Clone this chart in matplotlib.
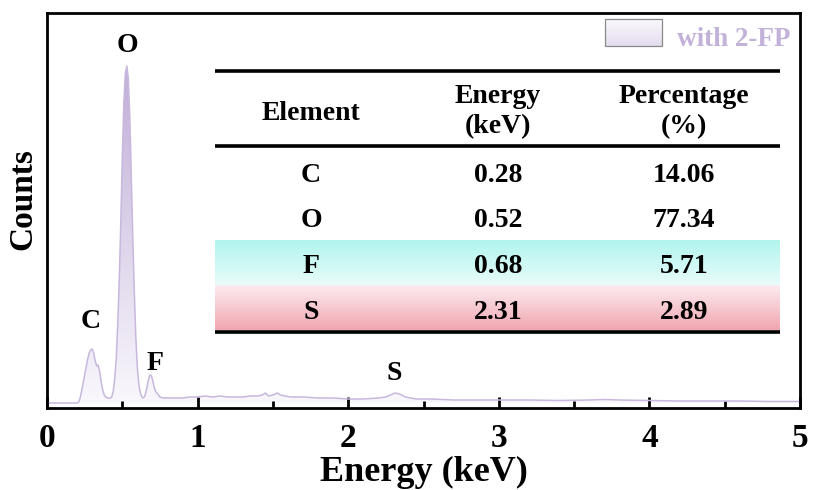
import numpy as np
import matplotlib
matplotlib.use("Agg")
import matplotlib.pyplot as plt
from matplotlib.patches import Rectangle, Polygon
from matplotlib.colors import LinearSegmentedColormap

plt.rcParams['font.family'] = ['Liberation Serif', 'DejaVu Serif']
plt.rcParams['font.weight'] = 'bold'

# ---------------- data ----------------
energy_kev = [0.00, 0.10, 0.20, 0.21, 0.22, 0.23, 0.24, 0.25, 0.26, 0.27, 0.28, 0.29,
              0.30, 0.31, 0.32, 0.33, 0.34, 0.35, 0.36, 0.37, 0.38, 0.39, 0.40, 0.41,
              0.42, 0.43, 0.44, 0.45, 0.46, 0.47, 0.48, 0.49, 0.50, 0.51, 0.52, 0.53,
              0.54, 0.55, 0.56, 0.57, 0.58, 0.59, 0.60, 0.61, 0.62, 0.63, 0.64, 0.65,
              0.66, 0.67, 0.68, 0.69, 0.70, 0.71, 0.72, 0.73, 0.74, 0.75, 0.77, 0.80,
              0.85, 0.90, 0.95, 1.00, 1.05, 1.10, 1.15, 1.20, 1.25, 1.30, 1.35, 1.40,
              1.43, 1.45, 1.47, 1.50, 1.53, 1.55, 1.58, 1.62, 1.70, 1.80, 1.90, 2.00,
              2.10, 2.20, 2.25, 2.28, 2.31, 2.34, 2.38, 2.45, 2.55, 2.70, 2.85, 3.00,
              3.20, 3.40, 3.60, 3.70, 3.80, 4.00, 4.20, 4.40, 4.60, 4.80, 5.00]
counts = [0, 0, 0, 1, 5, 12, 20, 28, 36, 44, 50, 53,
          54, 50, 42, 37, 38, 31, 21, 13, 8, 6, 5, 5,
          5, 6, 12, 25, 45, 80, 125, 180, 245, 300, 330, 337,
          325, 285, 225, 165, 110, 65, 35, 18, 10, 6, 5, 7,
          13, 21, 27, 28, 24, 17, 12, 10, 8, 6, 5, 5,
          5, 5, 6, 6, 7, 6, 7, 6, 6, 6, 7, 7,
          8, 10, 7, 8, 10, 8, 7, 6, 6, 5, 5, 4,
          4, 5, 6, 8, 10, 9, 6, 4, 4, 3, 3, 3,
          3, 2.5, 3, 3.5, 3, 2.5, 2, 2, 2, 1.5, 1.5]

elements = ['C', 'O', 'F', 'S']
elem_energy = ['0.28', '0.52', '0.68', '2.31']
elem_percent = ['14.06', '77.34', '5.71', '2.89']
peak_energy = [0.30, 0.53, 0.70, 2.32]
peak_height = [54, 337, 28, 10]

x_ticks = [0, 1, 2, 3, 4, 5]
series_label = 'with 2-FP'

# ---------------- figure ----------------
fig = plt.figure(figsize=(8.13, 4.90), dpi=100)
ax = fig.add_axes([47/813, 1-408/490, 753/813, 395/490])

x = np.array(energy_kev)
y = np.array(counts)
ymin, ymax = -5, 390
ax.set_xlim(0, 5)
ax.set_ylim(ymin, ymax)

# gradient fill under the curve
cmap = LinearSegmentedColormap.from_list('lav', ['#f9f7fc', '#c0aed8'])
grad = np.linspace(0, 1, 256).reshape(-1, 1)
im = ax.imshow(grad, extent=[0, 5, 0, max(counts)], origin='lower', aspect='auto',
               cmap=cmap, zorder=1)
verts = np.column_stack([np.r_[x[0], x, x[-1]], np.r_[0, y, 0]])
poly = Polygon(verts, closed=True, transform=ax.transData, facecolor='none', edgecolor='none')
ax.add_patch(poly)
im.set_clip_path(poly)
ax.plot(x, y, color='#c8b8dd', lw=1.1, zorder=2)

# peak labels (offsets in pixels from the peak top)
label_offsets = [(-1, 27), (1, 20), (3, 12), (-2, 20)]
for el, pe, ph, off in zip(elements, peak_energy, peak_height, label_offsets):
    ax.annotate(el, (pe, ph), xytext=off, textcoords='offset pixels',
                ha='center', va='center', fontsize=20, fontweight='bold', zorder=5)

# axes styling
for s in ax.spines.values():
    s.set_linewidth(2)
ax.set_xticks(x_ticks)
ax.set_xticklabels([str(t) for t in x_ticks])
ax.set_xticks(np.arange(0.5, 5, 1.0), minor=True)
ax.set_yticks([])
ax.tick_params(axis='x', which='major', direction='in', length=8, width=2, labelsize=24, pad=11)
ax.tick_params(axis='x', which='minor', direction='in', length=5, width=2)
ax.set_xlabel('Energy (keV)', fontsize=26, fontweight='bold')
ax.xaxis.set_label_coords(0.5, -0.185)
ax.xaxis.label.set_verticalalignment('baseline')
ax.set_ylabel('Counts', fontsize=24, fontweight='bold')
ax.yaxis.set_label_coords(-0.012, 0.53)

# legend
T = ax.transAxes
lg = np.linspace(0, 1, 64).reshape(-1, 1)
lcmap = LinearSegmentedColormap.from_list('lg', ['#e4dcee', '#fbfafd'])
ax.imshow(lg, extent=[0.741, 0.817, 0.916, 0.985], transform=T, cmap=lcmap,
          aspect='auto', origin='lower', zorder=3)
ax.add_patch(Rectangle((0.741, 0.916), 0.076, 0.069, transform=T, fill=False,
                       edgecolor='#8a8a8a', lw=0.9, zorder=4))
ax.text(0.8367, 0.916, series_label, transform=T, ha='left', va='baseline',
        fontsize=19.5, fontweight='bold', color='#c2b2da')

# table
x0, x1 = 0.223, 0.973
col_x = [0.3506, 0.599, 0.846]
row_base = [0.572, 0.458, 0.342, 0.225]
tcy = LinearSegmentedColormap.from_list('cy', ['#e9fcfa', '#b2f5ee'])
tpk = LinearSegmentedColormap.from_list('pk', ['#f1a6b1', '#fcecef'])
ax.imshow(lg, extent=[x0, x1, 0.309, 0.425], transform=T, cmap=tcy,
          aspect='auto', origin='lower', zorder=3)
ax.imshow(lg, extent=[x0, x1, 0.197, 0.309], transform=T, cmap=tpk,
          aspect='auto', origin='lower', zorder=3)
for yy in [0.853, 0.663, 0.192]:
    ax.plot([x0, x1], [yy, yy], transform=T, color='black', lw=2.6, zorder=4,
            solid_capstyle='butt')
fs = 20
kw = dict(transform=T, ha='center', va='baseline', fontsize=fs, zorder=5)
ax.text(col_x[0], 0.730, 'Element', **kw)
ax.text(col_x[1], 0.772, 'Energy', **kw)
ax.text(col_x[1], 0.696, '(keV)', **kw)
ax.text(col_x[2], 0.772, 'Percentage', **kw)
ax.text(col_x[2], 0.696, '(%)', **kw)
for el, en, pc, rb in zip(elements, elem_energy, elem_percent, row_base):
    ax.text(col_x[0], rb, el, **kw)
    ax.text(col_x[1], rb, en, **kw)
    ax.text(col_x[2], rb, pc, **kw)

ax.set_xlim(0, 5)
ax.set_ylim(ymin, ymax)
fig.savefig('out.png', dpi=100)
